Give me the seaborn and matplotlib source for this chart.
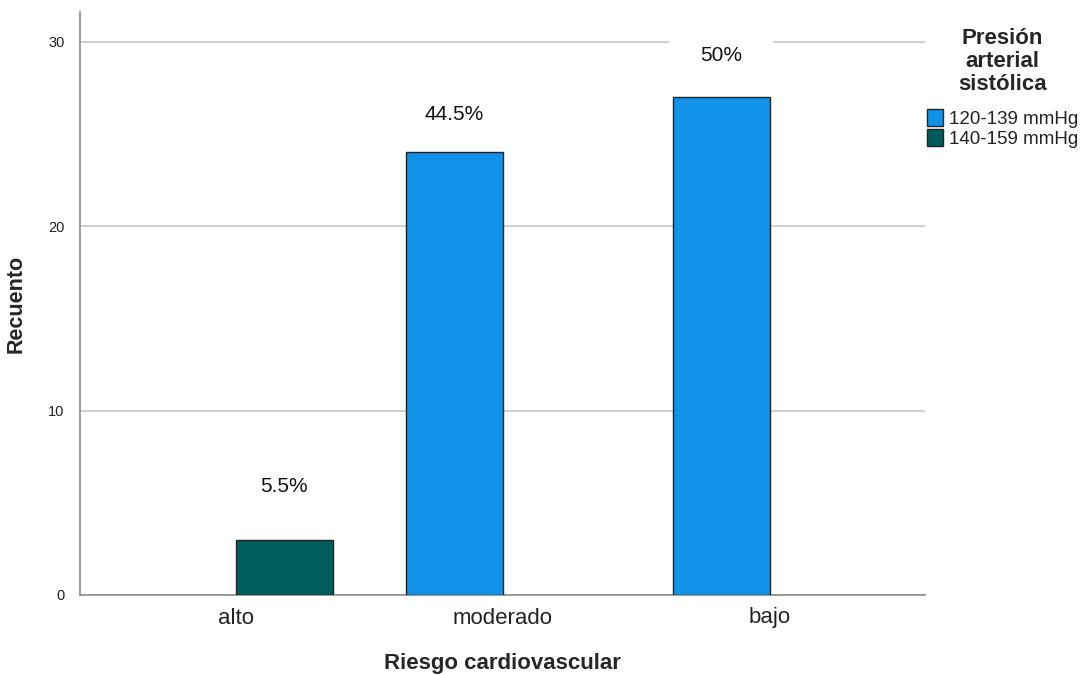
import matplotlib
matplotlib.use("Agg")
import matplotlib.pyplot as plt
from matplotlib.patches import Patch
import seaborn as sns
import pandas as pd

# Counts of patients by cardiovascular risk and systolic pressure group
categories = ["alto", "moderado", "bajo"]
pressure_groups = ["120-139 mmHg", "140-159 mmHg"]
counts_120_139 = [0, 24, 27]
counts_140_159 = [3, 0, 0]
pct_labels = ["5.5%", "44.5%", "50%"]
yticks = [0, 10, 20, 30]

colors = {"120-139 mmHg": "#1192e8", "140-159 mmHg": "#005d5d"}
edge = "#222222"

df = pd.DataFrame({
    "riesgo": categories * 2,
    "presion": [pressure_groups[0]] * 3 + [pressure_groups[1]] * 3,
    "n": counts_120_139 + counts_140_159,
})

sns.set_theme(style="white")
plt.rcParams["font.family"] = ["Liberation Sans", "DejaVu Sans"]

fig = plt.figure(figsize=(10.83, 6.75), dpi=100)
ax = fig.add_axes([80 / 1083, 80 / 675, 845 / 1083, 583 / 675])

sns.barplot(
    data=df, x="riesgo", y="n", hue="presion",
    order=categories, hue_order=pressure_groups, palette=colors,
    saturation=1, width=0.727, gap=0, errorbar=None,
    edgecolor=edge, linewidth=1.0, ax=ax, zorder=3, legend=False,
)

# empty bars: no outline drawn over the axis line
for bar in ax.patches:
    if bar.get_height() == 0:
        bar.set_linewidth(0)

ax.set_xlim(-0.583, 2.582)
ax.set_ylim(0, 31.6)
ax.set_yticks(yticks)
ax.set_yticklabels([str(t) for t in yticks], fontsize=10.5, color="#222222")
ax.tick_params(axis="y", length=0, pad=11)
ax.tick_params(axis="x", length=0, pad=9, labelsize=16, labelcolor="#222222")

ax.set_axisbelow(True)
ax.yaxis.grid(True, color="#cfcfcf", linewidth=1.4, zorder=0)
ax.xaxis.grid(False)
for side in ("top", "right"):
    ax.spines[side].set_visible(False)
for side in ("left", "bottom"):
    ax.spines[side].set_color("#8c8c8c")
    ax.spines[side].set_linewidth(1.2)

ax.set_xlabel("Riesgo cardiovascular", fontsize=16, fontweight="bold", labelpad=18)
ax.set_ylabel("Recuento", fontsize=15.5, fontweight="bold", labelpad=16)

# Percentage labels above the non-empty bar of each risk level
label_offsets_pt = [38, 27, 30]
for container in ax.containers:
    for i, bar in enumerate(container):
        h = bar.get_height()
        if h > 0:
            ax.annotate(
                pct_labels[i],
                xy=(bar.get_x() + bar.get_width() / 2, h),
                xytext=(0, label_offsets_pt[i]), textcoords="offset points",
                ha="center", va="center", fontsize=15, color="#111111",
                zorder=1,
                bbox=dict(boxstyle="square,pad=1.5", fc="white", ec="none"),
            )

handles = [Patch(facecolor=colors[g], edgecolor=edge, linewidth=1.0)
           for g in pressure_groups]
leg = ax.legend(
    handles, pressure_groups,
    title="Presión\narterial\nsistólica",
    loc="upper left", bbox_to_anchor=(927 / 1083, 1 - 28 / 675),
    bbox_transform=fig.transFigure, frameon=False, borderpad=0,
    borderaxespad=0, fontsize=13.5, handlelength=0.85, handleheight=1.0,
    handletextpad=0.3, labelspacing=0.1,
    title_fontproperties={"weight": "bold", "size": 16},
)
leg.get_title().set_multialignment("center")
leg.get_title().set_linespacing(1.12)
leg._legend_box.sep = 10
for t in leg.get_texts():
    t.set_color("#222222")

fig.savefig("out.png", dpi=100)
